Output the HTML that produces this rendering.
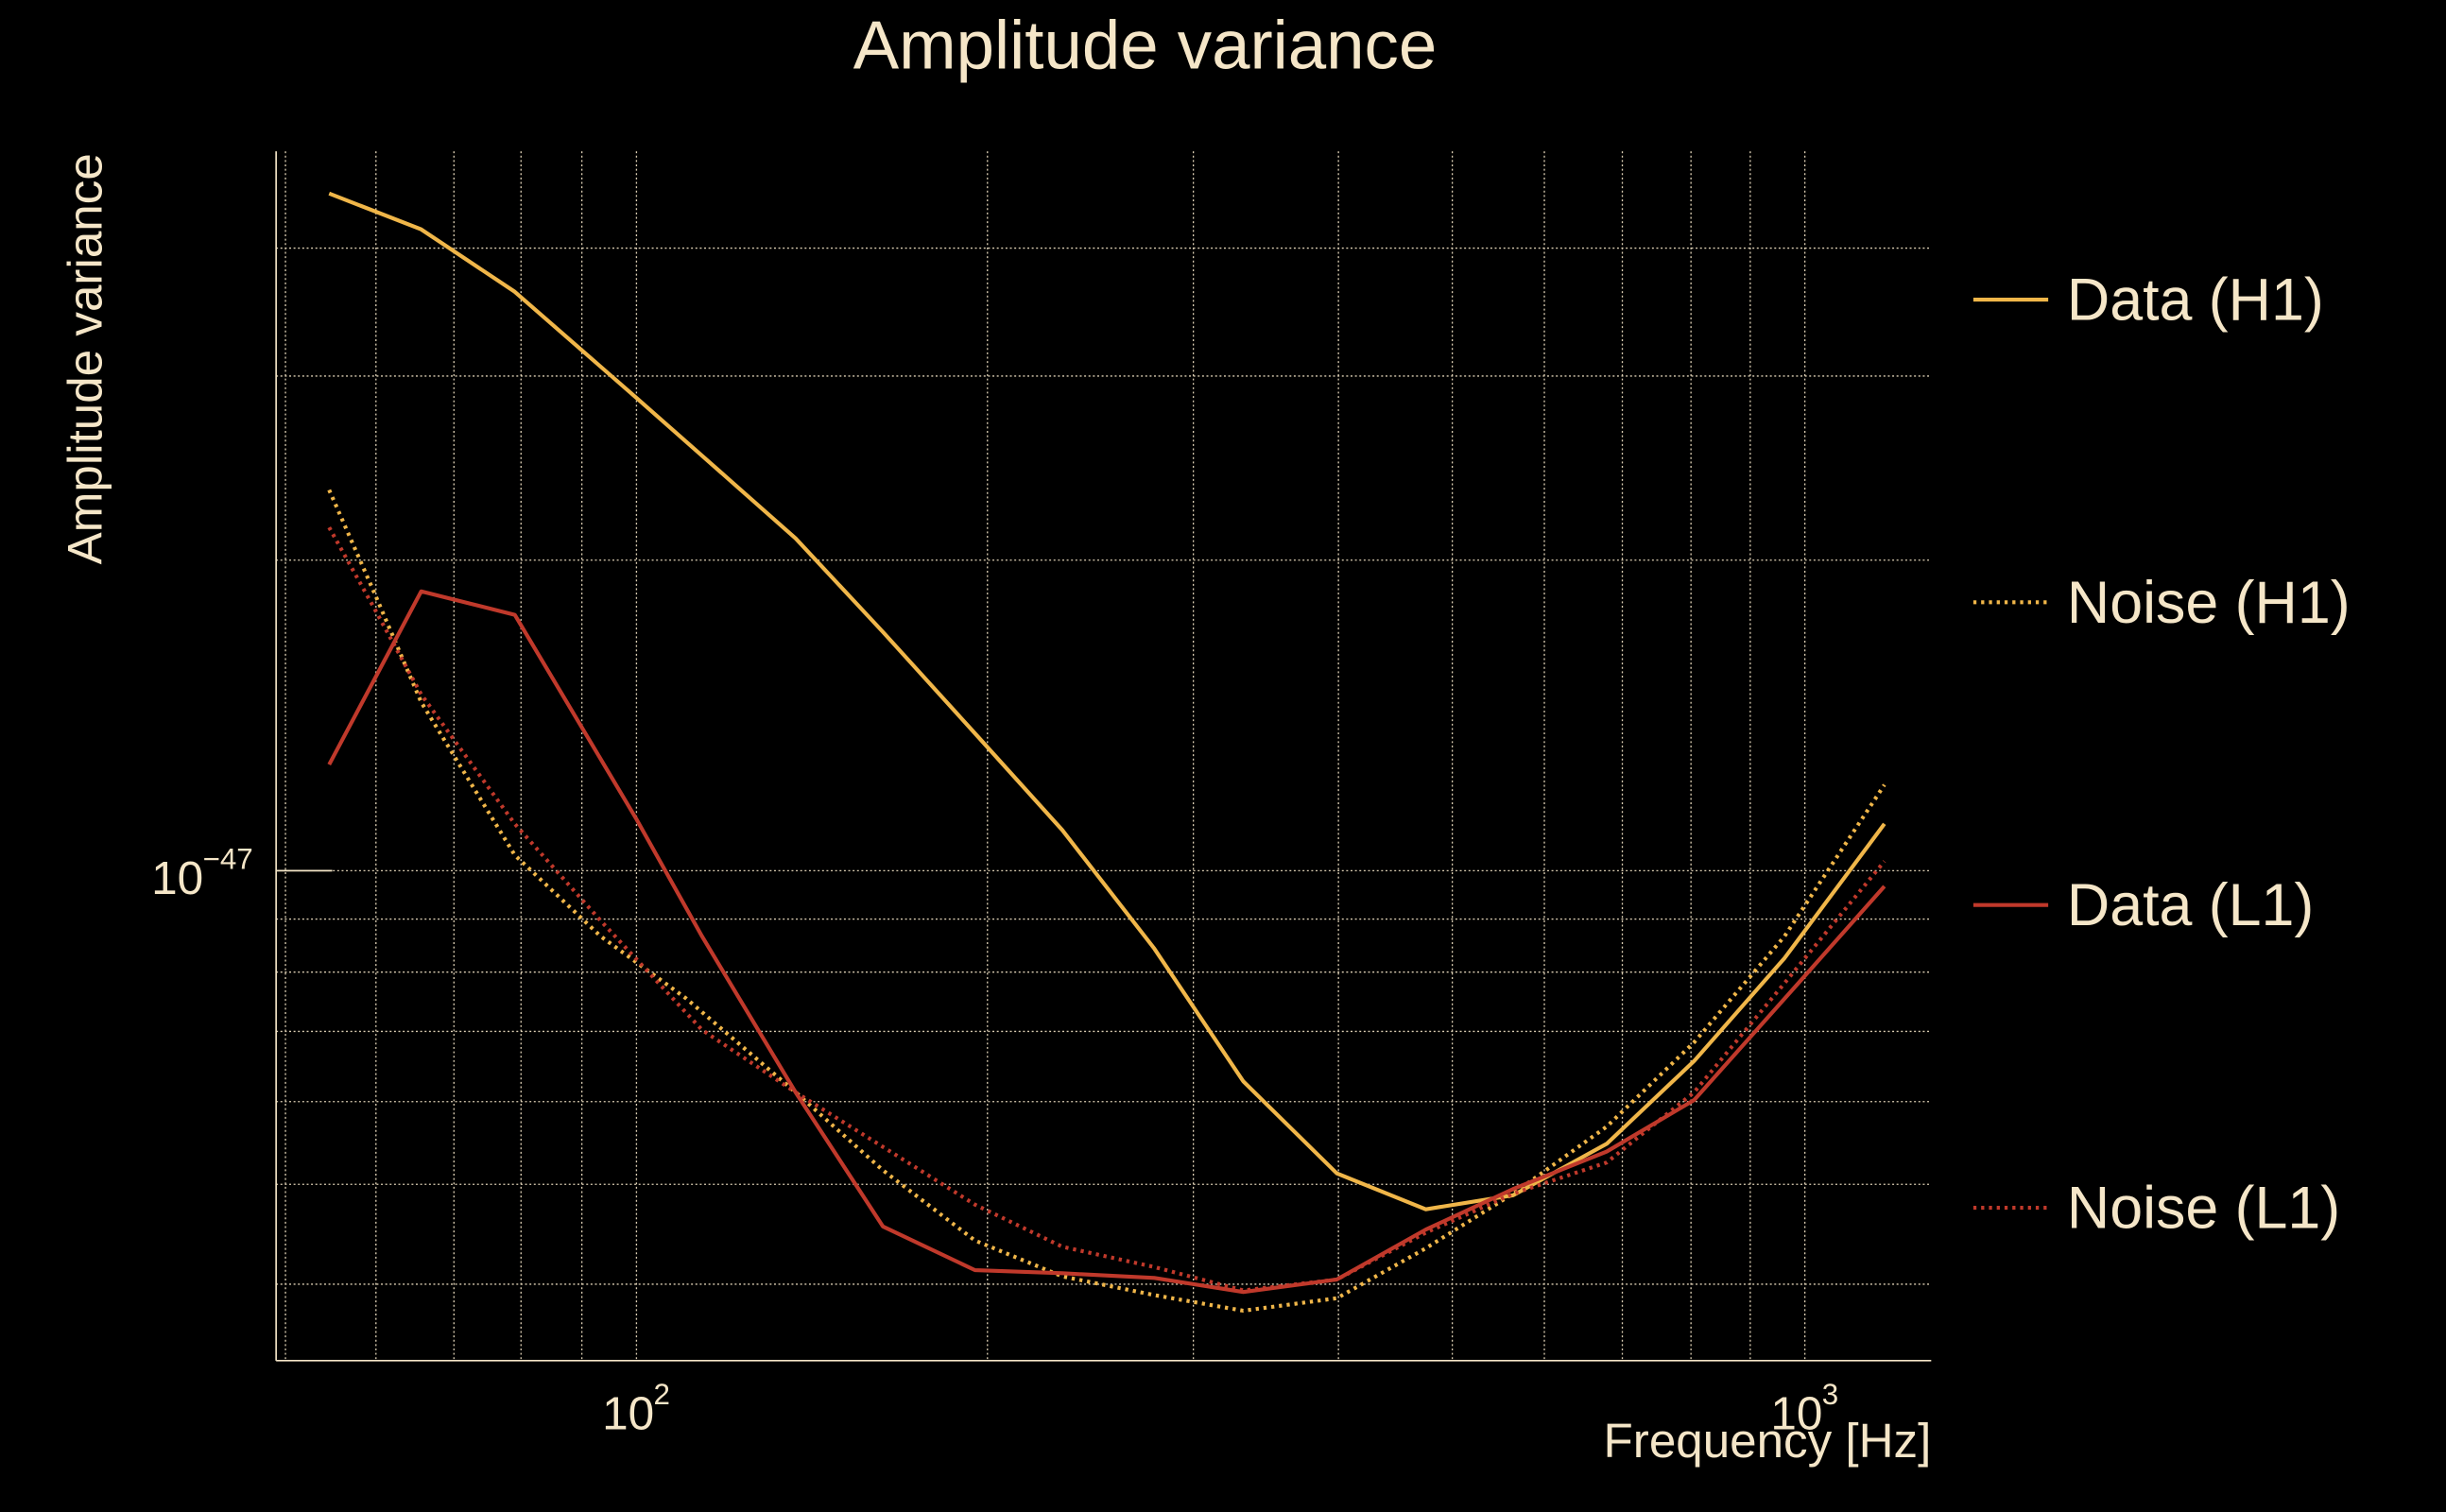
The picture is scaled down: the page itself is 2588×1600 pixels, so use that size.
<!DOCTYPE html>
<html><head><style>html,body{margin:0;padding:0;background:#000}svg{display:block}</style></head>
<body>
<svg width="2588" height="1600" viewBox="0 0 1568 969" preserveAspectRatio="none" xmlns="http://www.w3.org/2000/svg" font-family="Liberation Sans, sans-serif" fill="#f5e6c8">
<rect width="1568" height="969" fill="#000"/>
<g stroke="#f5e6c8" stroke-width="0.8" stroke-dasharray="1.2,1.6" opacity="0.9">
<line x1="183" y1="97" x2="183" y2="872"/><line x1="241" y1="97" x2="241" y2="872"/><line x1="291" y1="97" x2="291" y2="872"/><line x1="334" y1="97" x2="334" y2="872"/><line x1="373" y1="97" x2="373" y2="872"/><line x1="408" y1="97" x2="408" y2="872"/><line x1="633" y1="97" x2="633" y2="872"/><line x1="765" y1="97" x2="765" y2="872"/><line x1="858" y1="97" x2="858" y2="872"/><line x1="931" y1="97" x2="931" y2="872"/><line x1="990" y1="97" x2="990" y2="872"/><line x1="1040" y1="97" x2="1040" y2="872"/><line x1="1084" y1="97" x2="1084" y2="872"/><line x1="1122" y1="97" x2="1122" y2="872"/><line x1="1157" y1="97" x2="1157" y2="872"/>
<line x1="177" y1="159" x2="1238" y2="159"/><line x1="177" y1="241" x2="1238" y2="241"/><line x1="177" y1="359" x2="1238" y2="359"/><line x1="177" y1="558" x2="1238" y2="558"/><line x1="177" y1="589" x2="1238" y2="589"/><line x1="177" y1="623" x2="1238" y2="623"/><line x1="177" y1="661" x2="1238" y2="661"/><line x1="177" y1="706" x2="1238" y2="706"/><line x1="177" y1="759" x2="1238" y2="759"/><line x1="177" y1="823" x2="1238" y2="823"/>
</g>
<g stroke="#f5e6c8" stroke-width="1">
<line x1="177" y1="97" x2="177" y2="872"/><line x1="177" y1="872" x2="1238" y2="872"/>
<line x1="177" y1="558" x2="213" y2="558"/>
</g>
<text x="734" y="44" font-size="44" text-anchor="middle">Amplitude variance</text>
<text transform="translate(65,230) rotate(-90)" font-size="31" text-anchor="middle">Amplitude variance</text>
<text x="97" y="573" font-size="30">10</text><text x="130" y="557" font-size="19">−47</text>
<text x="386" y="916" font-size="30">10</text><text x="419" y="900" font-size="19">2</text>
<text x="1135" y="916" font-size="30">10</text><text x="1168" y="900" font-size="19">3</text>
<text x="1238" y="934" font-size="31" text-anchor="end">Frequency [Hz]</text>
<g fill="none" stroke-width="2.5" stroke-linejoin="round">
<polyline stroke="#f0b649" points="211,124 270,147 330,187 408,255 450,292 510,345 566,405 625,470 681,532 740,608 797,693 857,752 914,775 970,766 1030,733 1086,680 1144,614 1208,528"/>
<polyline stroke="#f0b649" stroke-dasharray="2,3" points="211,314 240,380 270,450 330,548 385,600 440,640 510,700 566,750 625,795 681,818 740,830 797,840 857,832 914,800 970,765 1030,722 1086,668 1144,600 1208,503"/>
<polyline stroke="#c0392b" points="211,490 270,379 330,394 408,525 450,600 510,700 566,786 625,814 681,816 740,819 797,828 857,820 914,788 970,762 1030,738 1086,705 1144,640 1208,568"/>
<polyline stroke="#c0392b" stroke-dasharray="2,3" points="211,338 240,390 270,445 330,528 385,590 450,660 510,700 566,735 625,772 681,799 740,812 797,827 857,820 914,790 970,765 1030,745 1086,700 1144,630 1208,552"/>
<line x1="1265" y1="192" x2="1313" y2="192" stroke="#f0b649"/>
<line x1="1265" y1="386" x2="1313" y2="386" stroke="#f0b649" stroke-dasharray="2,3"/>
<line x1="1265" y1="580" x2="1313" y2="580" stroke="#c0392b"/>
<line x1="1265" y1="774" x2="1313" y2="774" stroke="#c0392b" stroke-dasharray="2,3"/>
</g>
<g font-size="38">
<text x="1325" y="205">Data (H1)</text>
<text x="1325" y="399">Noise (H1)</text>
<text x="1325" y="593">Data (L1)</text>
<text x="1325" y="787">Noise (L1)</text>
</g>
</svg>
</body></html>
